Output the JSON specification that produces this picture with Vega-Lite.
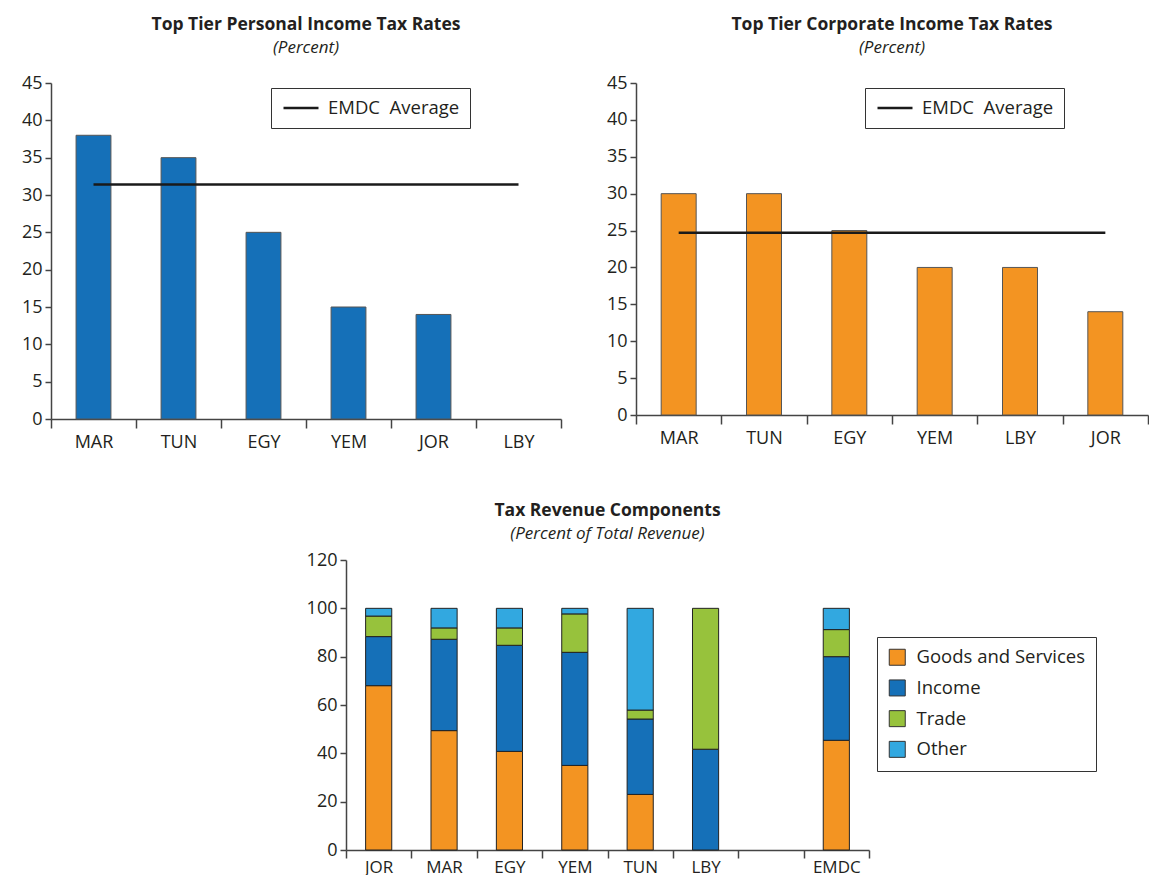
{
  "$schema": "https://vega.github.io/schema/vega-lite/v6.json",
  "background": "white",
  "padding": {"left": 21, "top": 15, "right": 0, "bottom": 0},
  "spacing": 50,
  "resolve": {"scale": {"color": "independent"}, "legend": {"color": "independent"}},
  "config": {
    "font": "Open Sans",
    "view": {"stroke": null},
    "axis": {
      "labelFont": "Open Sans",
      "labelFontSize": 18,
      "labelColor": "#231F20",
      "domainColor": "#444",
      "tickColor": "#444",
      "domainWidth": 1.5,
      "tickWidth": 1.5,
      "grid": false,
      "title": null
    },
    "axisX": {"labelAngle": 0, "tickSize": 9, "labelPadding": 5, "tickBand": "extent"},
    "axisY": {"tickSize": 6, "labelPadding": 3},
    "title": {
      "font": "Open Sans",
      "fontSize": 17.5,
      "fontWeight": "bold",
      "color": "#231F20",
      "subtitleFont": "Open Sans",
      "subtitleFontSize": 17,
      "subtitleFontStyle": "italic",
      "subtitleColor": "#231F20",
      "anchor": "middle",
      "offset": 18,
      "subtitlePadding": 7
    },
    "legend": {
      "labelFont": "Open Sans",
      "labelFontSize": 18.5,
      "labelColor": "#231F20",
      "labelLimit": 400,
      "strokeColor": "#333",
      "title": null
    }
  },
  "vconcat": [
    {
      "spacing": 44,
      "resolve": {"scale": {"color": "independent"}, "legend": {"color": "independent"}},
      "hconcat": [
        {
          "width": 510,
          "height": 336,
          "title": {"text": "Top Tier Personal Income Tax Rates", "subtitle": "(Percent)"},
          "layer": [
            {
              "data": {"values": [
                {"c": "MAR", "v": 38},
                {"c": "TUN", "v": 35},
                {"c": "EGY", "v": 25},
                {"c": "YEM", "v": 15},
                {"c": "JOR", "v": 14}
              ]},
              "mark": {"type": "bar", "color": "#1570B8", "stroke": "#555", "strokeWidth": 1, "width": {"band": 0.41}},
              "encoding": {
                "x": {"field": "c", "type": "nominal", "scale": {"domain": ["MAR", "TUN", "EGY", "YEM", "JOR", "LBY"], "paddingInner": 0, "paddingOuter": 0}},
                "y": {"field": "v", "type": "quantitative", "scale": {"domain": [0, 45]}, "axis": {"values": [0, 5, 10, 15, 20, 25, 30, 35, 40, 45]}}
              }
            },
            {
              "data": {"values": [{"from": "MAR", "to": "LBY", "avg": 31.4, "s": "EMDC\u00a0 Average"}]},
              "mark": {"type": "rule", "strokeWidth": 2.5},
              "encoding": {
                "x": {"field": "from", "type": "nominal"},
                "x2": {"field": "to"},
                "y": {"field": "avg", "type": "quantitative", "axis": {"values": [0, 5, 10, 15, 20, 25, 30, 35, 40, 45]}},
                "color": {"field": "s", "type": "nominal", "scale": {"range": ["#1a1a1a"]},
                  "legend": {"orient": "none", "legendX": 220, "legendY": 5, "padding": 10, "symbolOffset": 10, "symbolType": "M-2,0L2,0", "symbolSize": 306, "symbolStrokeWidth": 2.5, "labelOffset": 17}}
              }
            }
          ]
        },
        {
          "width": 512,
          "height": 332,
          "title": {"text": "Top Tier Corporate Income Tax Rates", "subtitle": "(Percent)"},
          "layer": [
            {
              "data": {"values": [
                {"c": "MAR", "v": 30},
                {"c": "TUN", "v": 30},
                {"c": "EGY", "v": 25},
                {"c": "YEM", "v": 20},
                {"c": "LBY", "v": 20},
                {"c": "JOR", "v": 14}
              ]},
              "mark": {"type": "bar", "color": "#F39422", "stroke": "#555", "strokeWidth": 1, "width": {"band": 0.41}},
              "encoding": {
                "x": {"field": "c", "type": "nominal", "scale": {"domain": ["MAR", "TUN", "EGY", "YEM", "LBY", "JOR"], "paddingInner": 0, "paddingOuter": 0}},
                "y": {"field": "v", "type": "quantitative", "scale": {"domain": [0, 45]}, "axis": {"values": [0, 5, 10, 15, 20, 25, 30, 35, 40, 45]}}
              }
            },
            {
              "data": {"values": [{"from": "MAR", "to": "JOR", "avg": 24.7, "s": "EMDC\u00a0 Average"}]},
              "mark": {"type": "rule", "strokeWidth": 2.5},
              "encoding": {
                "x": {"field": "from", "type": "nominal"},
                "x2": {"field": "to"},
                "y": {"field": "avg", "type": "quantitative", "axis": {"values": [0, 5, 10, 15, 20, 25, 30, 35, 40, 45]}},
                "color": {"field": "s", "type": "nominal", "scale": {"range": ["#1a1a1a"]},
                  "legend": {"orient": "none", "legendX": 229, "legendY": 5, "padding": 10, "symbolOffset": 10, "symbolType": "M-2,0L2,0", "symbolSize": 306, "symbolStrokeWidth": 2.5, "labelOffset": 17}}
              }
            }
          ]
        }
      ]
    },
    {
      "spacing": 0,
      "resolve": {"scale": {"color": "independent"}, "legend": {"color": "independent"}},
      "hconcat": [
        {
          "width": 255,
          "height": 20,
          "data": {"values": []},
          "mark": {"type": "point", "opacity": 0},
          "encoding": {}
        },
        {
          "width": 523,
          "height": 290,
          "title": {"text": "Tax Revenue Components", "subtitle": "(Percent of Total Revenue)", "offset": 9},
          "data": {"values": [
            {"c": "JOR", "k": "Goods and Services", "o": 1, "v": 68},
            {"c": "JOR", "k": "Income", "o": 2, "v": 20.3},
            {"c": "JOR", "k": "Trade", "o": 3, "v": 8.5},
            {"c": "JOR", "k": "Other", "o": 4, "v": 3.2},
            {"c": "MAR", "k": "Goods and Services", "o": 1, "v": 49.4},
            {"c": "MAR", "k": "Income", "o": 2, "v": 37.8},
            {"c": "MAR", "k": "Trade", "o": 3, "v": 4.7},
            {"c": "MAR", "k": "Other", "o": 4, "v": 8.1},
            {"c": "EGY", "k": "Goods and Services", "o": 1, "v": 40.8},
            {"c": "EGY", "k": "Income", "o": 2, "v": 43.9},
            {"c": "EGY", "k": "Trade", "o": 3, "v": 7.2},
            {"c": "EGY", "k": "Other", "o": 4, "v": 8.1},
            {"c": "YEM", "k": "Goods and Services", "o": 1, "v": 35},
            {"c": "YEM", "k": "Income", "o": 2, "v": 46.8},
            {"c": "YEM", "k": "Trade", "o": 3, "v": 15.9},
            {"c": "YEM", "k": "Other", "o": 4, "v": 2.3},
            {"c": "TUN", "k": "Goods and Services", "o": 1, "v": 23},
            {"c": "TUN", "k": "Income", "o": 2, "v": 31.2},
            {"c": "TUN", "k": "Trade", "o": 3, "v": 3.7},
            {"c": "TUN", "k": "Other", "o": 4, "v": 42.1},
            {"c": "LBY", "k": "Income", "o": 2, "v": 41.7},
            {"c": "LBY", "k": "Trade", "o": 3, "v": 58.3},
            {"c": "EMDC", "k": "Goods and Services", "o": 1, "v": 45.4},
            {"c": "EMDC", "k": "Income", "o": 2, "v": 34.6},
            {"c": "EMDC", "k": "Trade", "o": 3, "v": 11.2},
            {"c": "EMDC", "k": "Other", "o": 4, "v": 8.8}
          ]},
          "mark": {"type": "bar", "stroke": "#222", "strokeWidth": 1, "width": {"band": 0.4}},
          "encoding": {
            "x": {"field": "c", "type": "nominal", "scale": {"domain": ["JOR", "MAR", "EGY", "YEM", "TUN", "LBY", " ", "EMDC"], "paddingInner": 0, "paddingOuter": 0}, "axis": {"labelFontSize": 17, "labelPadding": 1, "tickSize": 8}},
            "y": {"field": "v", "type": "quantitative", "stack": "zero", "scale": {"domain": [0, 120]}, "axis": {"values": [0, 20, 40, 60, 80, 100, 120]}},
            "color": {"field": "k", "type": "nominal",
              "scale": {"domain": ["Goods and Services", "Income", "Trade", "Other"], "range": ["#F39422", "#1570B8", "#97C23C", "#32A8E0"]},
              "legend": {"orient": "none", "legendX": 531, "legendY": 77, "padding": 11, "symbolType": "square", "symbolSize": 256, "symbolStrokeColor": "#333", "symbolStrokeWidth": 1, "rowPadding": 9.7, "labelOffset": 10}},
            "order": {"field": "o", "type": "quantitative"}
          }
        }
      ]
    }
  ]
}
